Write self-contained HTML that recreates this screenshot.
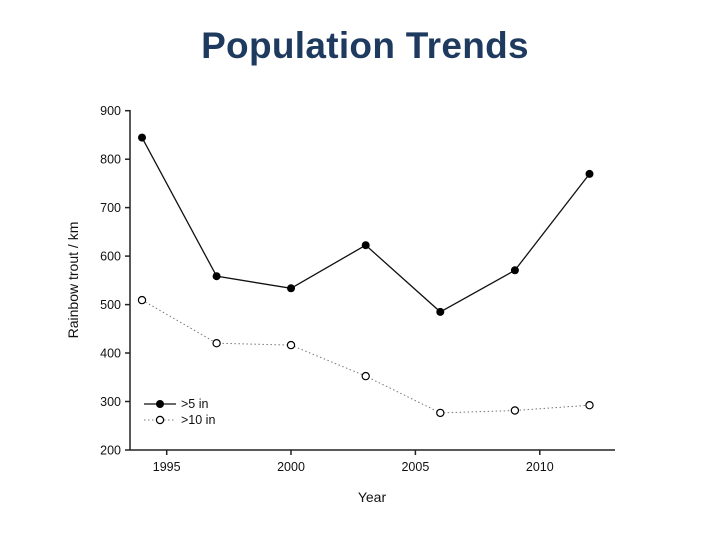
<!DOCTYPE html>
<html><head><style>body{margin:0;background:#fff;}svg{display:block}</style></head><body>
<svg width="720" height="540" xmlns="http://www.w3.org/2000/svg" font-family="Liberation Sans, sans-serif">
<text x="365" y="58" text-anchor="middle" font-size="37" font-weight="bold" fill="#1f3a5f" letter-spacing="0.3">Population Trends</text>
<g stroke="#222" stroke-width="1.5" fill="none">
<line x1="130" y1="110" x2="130" y2="450"/>
<line x1="130" y1="450" x2="615" y2="450"/>
<line x1="125" y1="110.7" x2="130" y2="110.7"/>
<line x1="125" y1="159.2" x2="130" y2="159.2"/>
<line x1="125" y1="207.6" x2="130" y2="207.6"/>
<line x1="125" y1="256.1" x2="130" y2="256.1"/>
<line x1="125" y1="304.6" x2="130" y2="304.6"/>
<line x1="125" y1="353.0" x2="130" y2="353.0"/>
<line x1="125" y1="401.5" x2="130" y2="401.5"/>
<line x1="125" y1="450" x2="130" y2="450"/>
<line x1="166.7" y1="450" x2="166.7" y2="455"/>
<line x1="291" y1="450" x2="291" y2="455"/>
<line x1="415.4" y1="450" x2="415.4" y2="455"/>
<line x1="539.8" y1="450" x2="539.8" y2="455"/>
</g>
<g font-size="12.5" fill="#111" text-anchor="end">
<text x="121" y="115">900</text><text x="121" y="163.5">800</text><text x="121" y="212">700</text>
<text x="121" y="260.5">600</text><text x="121" y="309">500</text><text x="121" y="357.5">400</text>
<text x="121" y="406">300</text><text x="121" y="454.5">200</text>
</g>
<g font-size="12.5" fill="#111" text-anchor="middle">
<text x="166.7" y="471">1995</text><text x="291" y="471">2000</text><text x="415.4" y="471">2005</text><text x="539.8" y="471">2010</text>
</g>
<text x="372" y="502" font-size="14" text-anchor="middle" fill="#111">Year</text>
<text transform="translate(78,280) rotate(-90)" font-size="14" text-anchor="middle" fill="#111">Rainbow trout / km</text>
<polyline fill="none" stroke="#111" stroke-width="1.3" points="142,137.6 216.6,276.2 291,288.3 365.7,245.2 440.3,311.9 514.9,270.3 589.5,173.9"/>
<polyline fill="none" stroke="#777" stroke-width="1" stroke-dasharray="1.5,2.5" points="142,300.1 216.6,343.2 291,345.1 365.7,376.1 440.3,412.9 514.9,410.5 589.5,405.2"/>
<g fill="#000">
<circle cx="142" cy="137.6" r="4"/><circle cx="216.6" cy="276.2" r="4"/><circle cx="291" cy="288.3" r="4"/>
<circle cx="365.7" cy="245.2" r="4"/><circle cx="440.3" cy="311.9" r="4"/><circle cx="514.9" cy="270.3" r="4"/><circle cx="589.5" cy="173.9" r="4"/>
</g>
<g fill="#fff" stroke="#000" stroke-width="1.2">
<circle cx="142" cy="300.1" r="3.6"/><circle cx="216.6" cy="343.2" r="3.6"/><circle cx="291" cy="345.1" r="3.6"/>
<circle cx="365.7" cy="376.1" r="3.6"/><circle cx="440.3" cy="412.9" r="3.6"/><circle cx="514.9" cy="410.5" r="3.6"/><circle cx="589.5" cy="405.2" r="3.6"/>
</g>
<line x1="144" y1="404" x2="176" y2="404" stroke="#111" stroke-width="1.3"/>
<circle cx="160" cy="404" r="4" fill="#000"/>
<line x1="144" y1="420" x2="176" y2="420" stroke="#777" stroke-dasharray="1.5,2.5"/>
<circle cx="160" cy="420" r="3.6" fill="#fff" stroke="#000" stroke-width="1.2"/>
<text x="181" y="408" font-size="12.5" fill="#111">&gt;5 in</text>
<text x="181" y="424" font-size="12.5" fill="#111">&gt;10 in</text>
</svg>
</body></html>
